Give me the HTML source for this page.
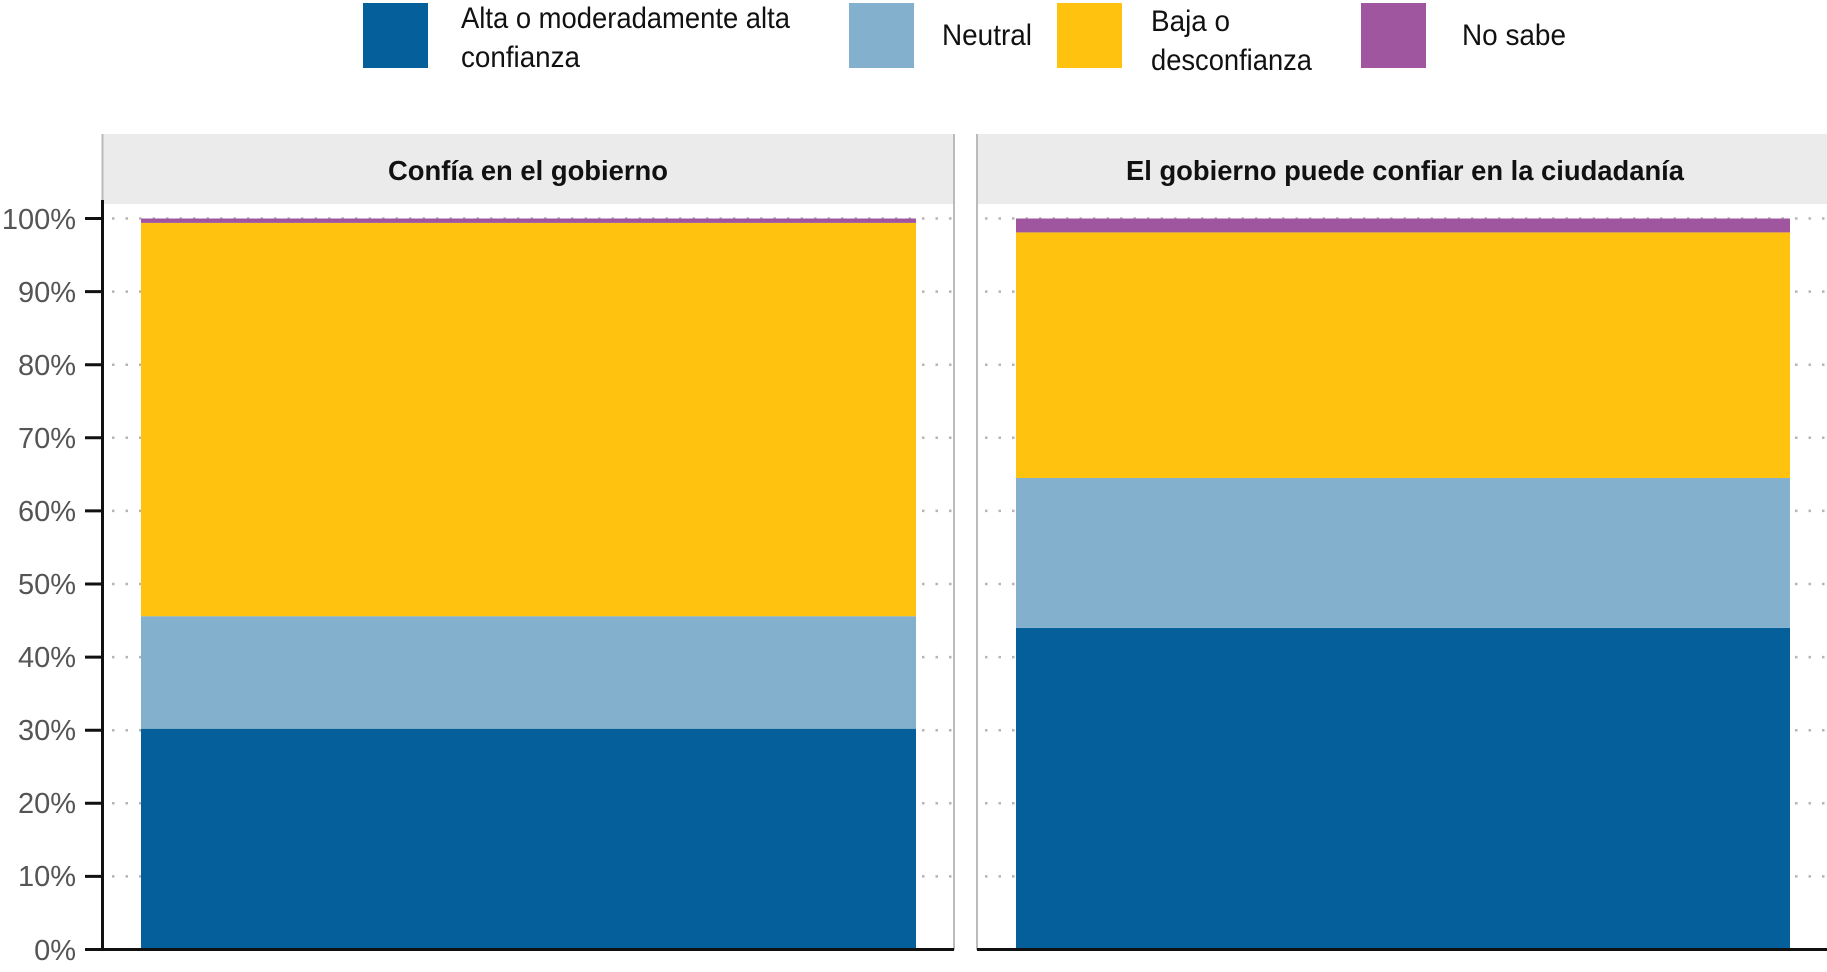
<!DOCTYPE html>
<html><head><meta charset="utf-8"><style>
html,body{margin:0;padding:0;background:#fff;}
svg{display:block;}
text{font-family:"Liberation Sans Narrow","Liberation Sans",sans-serif;}
</style></head><body>
<svg width="1827" height="972" viewBox="0 0 1827 972" xmlns="http://www.w3.org/2000/svg">
<!-- legend -->
<rect x="363" y="3" width="65" height="65" fill="#045f9a"/>
<text x="461" y="28" font-size="30" fill="#111" textLength="329" lengthAdjust="spacingAndGlyphs">Alta o moderadamente alta</text>
<text x="461" y="67" font-size="30" fill="#111" textLength="119" lengthAdjust="spacingAndGlyphs">confianza</text>
<rect x="849" y="3" width="65" height="65" fill="#82b0cd"/>
<text x="942" y="45" font-size="30" fill="#111" textLength="90" lengthAdjust="spacingAndGlyphs">Neutral</text>
<rect x="1057" y="3" width="65" height="65" fill="#fec20f"/>
<text x="1151" y="31" font-size="30" fill="#111" textLength="79" lengthAdjust="spacingAndGlyphs">Baja o</text>
<text x="1151" y="70" font-size="30" fill="#111" textLength="161" lengthAdjust="spacingAndGlyphs">desconfianza</text>
<rect x="1361" y="3" width="65" height="65" fill="#a0559f"/>
<text x="1462" y="45" font-size="30" fill="#111" textLength="104" lengthAdjust="spacingAndGlyphs">No sabe</text>

<!-- strips -->
<rect x="102" y="134" width="852" height="70" fill="#ebebeb"/>
<rect x="976" y="134" width="851" height="70" fill="#ebebeb"/>
<line x1="102.5" y1="134" x2="102.5" y2="950" stroke="#bbb" stroke-width="2"/>
<line x1="954" y1="134" x2="954" y2="950" stroke="#bbb" stroke-width="2"/>
<line x1="977" y1="134" x2="977" y2="950" stroke="#bbb" stroke-width="2"/>
<text x="528" y="180" font-size="28" font-weight="bold" text-anchor="middle" fill="#111" textLength="280" lengthAdjust="spacingAndGlyphs">Confía en el gobierno</text>
<text x="1405" y="180" font-size="28" font-weight="bold" text-anchor="middle" fill="#111" textLength="558" lengthAdjust="spacingAndGlyphs">El gobierno puede confiar en la ciudadanía</text>

<!-- gridlines -->
<g stroke="#b5b5b5" stroke-width="2.5" stroke-dasharray="2.5 11">
<line x1="112" y1="218.5" x2="954" y2="218.5"/><line x1="985" y1="218.5" x2="1827" y2="218.5"/>
<line x1="112" y1="291.6" x2="954" y2="291.6"/><line x1="985" y1="291.6" x2="1827" y2="291.6"/>
<line x1="112" y1="364.7" x2="954" y2="364.7"/><line x1="985" y1="364.7" x2="1827" y2="364.7"/>
<line x1="112" y1="437.8" x2="954" y2="437.8"/><line x1="985" y1="437.8" x2="1827" y2="437.8"/>
<line x1="112" y1="510.9" x2="954" y2="510.9"/><line x1="985" y1="510.9" x2="1827" y2="510.9"/>
<line x1="112" y1="584" x2="954" y2="584"/><line x1="985" y1="584" x2="1827" y2="584"/>
<line x1="112" y1="657.1" x2="954" y2="657.1"/><line x1="985" y1="657.1" x2="1827" y2="657.1"/>
<line x1="112" y1="730.2" x2="954" y2="730.2"/><line x1="985" y1="730.2" x2="1827" y2="730.2"/>
<line x1="112" y1="803.3" x2="954" y2="803.3"/><line x1="985" y1="803.3" x2="1827" y2="803.3"/>
<line x1="112" y1="876.4" x2="954" y2="876.4"/><line x1="985" y1="876.4" x2="1827" y2="876.4"/>
</g>

<!-- bars left: y(v)=949.5-7.31v -->
<rect x="141" y="728.7" width="775" height="220.8" fill="#045f9a"/>
<rect x="141" y="616.2" width="775" height="112.5" fill="#82b0cd"/>
<rect x="141" y="222.9" width="775" height="393.3" fill="#fec20f"/>
<rect x="141" y="218.5" width="775" height="4.4" fill="#a0559f"/>
<!-- bars right -->
<rect x="1016" y="627.9" width="774" height="321.6" fill="#045f9a"/>
<rect x="1016" y="478" width="774" height="149.9" fill="#82b0cd"/>
<rect x="1016" y="232.4" width="774" height="245.6" fill="#fec20f"/>
<rect x="1016" y="218.5" width="774" height="13.9" fill="#a0559f"/>

<!-- axes -->
<line x1="102.5" y1="200" x2="102.5" y2="950" stroke="#111" stroke-width="3"/>
<line x1="85" y1="949.5" x2="954" y2="949.5" stroke="#111" stroke-width="3"/>
<line x1="977" y1="949.5" x2="1827" y2="949.5" stroke="#111" stroke-width="3"/>
<g stroke="#111" stroke-width="3">
<line x1="85" y1="218.5" x2="102" y2="218.5"/><line x1="85" y1="291.6" x2="102" y2="291.6"/>
<line x1="85" y1="364.7" x2="102" y2="364.7"/><line x1="85" y1="437.8" x2="102" y2="437.8"/>
<line x1="85" y1="510.9" x2="102" y2="510.9"/><line x1="85" y1="584" x2="102" y2="584"/>
<line x1="85" y1="657.1" x2="102" y2="657.1"/><line x1="85" y1="730.2" x2="102" y2="730.2"/>
<line x1="85" y1="803.3" x2="102" y2="803.3"/><line x1="85" y1="876.4" x2="102" y2="876.4"/>
</g>
<g font-size="29" fill="#555" text-anchor="end">
<text x="76" y="229">100%</text><text x="76" y="302">90%</text><text x="76" y="375">80%</text>
<text x="76" y="448">70%</text><text x="76" y="521">60%</text><text x="76" y="594">50%</text>
<text x="76" y="667">40%</text><text x="76" y="740">30%</text><text x="76" y="813">20%</text>
<text x="76" y="886">10%</text><text x="76" y="960">0%</text>
</g>
</svg>
</body></html>
